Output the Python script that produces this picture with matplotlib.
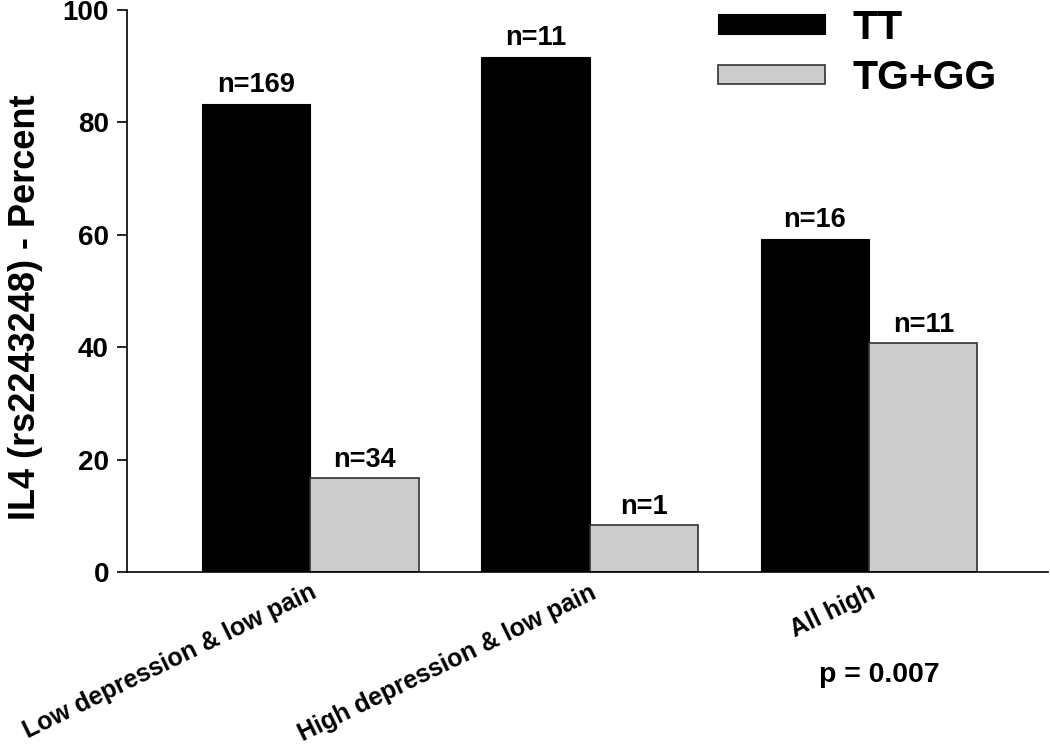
import numpy as np
from matplotlib import pyplot as plt

plt.rcParams['font.family'] = ['Liberation Sans', 'DejaVu Sans']
plt.rcParams['font.weight'] = 'bold'

groups = ['Low depression & low pain', 'High depression & low pain', 'All high']
tt_pct = [83.3, 91.7, 59.3]
tg_pct = [16.7, 8.3, 40.7]
tt_n = ['n=169', 'n=11', 'n=16']
tg_n = ['n=34', 'n=1', 'n=11']

fig = plt.figure(figsize=(10.5, 7.44), dpi=100)
ax = fig.add_axes([0.121, 0.2312, 0.877, 0.7554])

x = np.arange(len(groups))
w = 0.388
b1 = ax.bar(x - w / 2, tt_pct, w, color='black', edgecolor='black', linewidth=0.8, label='TT')
b2 = ax.bar(x + w / 2, tg_pct, w, color='#cccccc', edgecolor='#333333', linewidth=1.2, label='TG+GG')

for bars, labels in ((b1, tt_n), (b2, tg_n)):
    for bar, lab in zip(bars, labels):
        ax.text(bar.get_x() + bar.get_width() / 2, bar.get_height() + 1.0, lab,
                ha='center', va='bottom', fontsize=19.5, fontweight='bold')

ax.set_xlim(-0.655, 2.64)
ax.set_ylim(0, 100)
ax.set_yticks([0, 20, 40, 60, 80, 100])
ax.tick_params(axis='y', labelsize=20, length=7, width=1.2, direction='out', pad=6)
ax.tick_params(axis='x', length=0, pad=6)
ax.set_xticks(x)
ax.set_xticklabels(groups, rotation=26, ha='right', va='top', rotation_mode='anchor',
                   fontsize=18, fontweight='bold')
for t in ax.get_yticklabels():
    t.set_fontweight('bold')

ax.spines['top'].set_visible(False)
ax.spines['right'].set_visible(False)
ax.spines['left'].set_linewidth(1.2)
ax.spines['bottom'].set_linewidth(1.2)

ax.set_ylabel('IL4 (rs2243248) - Percent', fontsize=26, fontweight='bold')
ax.yaxis.set_label_coords(-0.091, 0.4715)

ax.legend(loc='upper left', bbox_to_anchor=(718 / 1050, 1 - 9 / 744),
          bbox_transform=fig.transFigure, frameon=False, fontsize=29.5,
          handlelength=2.6, handleheight=0.36, handletextpad=0.68,
          labelspacing=0.3, borderpad=0, borderaxespad=0)

fig.text(879 / 1050, 1 - 675 / 744, 'p = 0.007', ha='center', va='center',
         fontsize=20.5, fontweight='bold')

plt.savefig('out.png', dpi=100)
